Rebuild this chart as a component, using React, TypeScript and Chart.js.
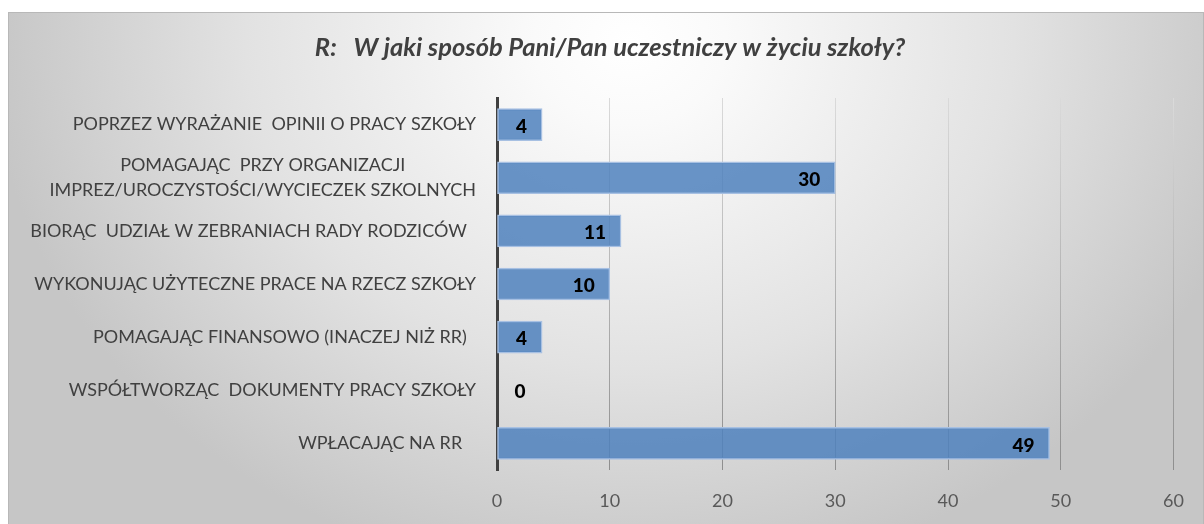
import React, { useEffect, useRef } from "react";
import { Chart, registerables } from "chart.js";

Chart.register(...registerables);

const titleText = "R:   W jaki sposób Pani/Pan uczestniczy w życiu szkoły?";

const categories: string[][] = [
  ["POPRZEZ WYRAŻANIE  OPINII O PRACY SZKOŁY"],
  ["POMAGAJĄC  PRZY ORGANIZACJI", "IMPREZ/UROCZYSTOŚCI/WYCIECZEK SZKOLNYCH"],
  ["BIORĄC  UDZIAŁ W ZEBRANIACH RADY RODZICÓW  "],
  ["WYKONUJĄC UŻYTECZNE PRACE NA RZECZ SZKOŁY"],
  ["POMAGAJĄC FINANSOWO (INACZEJ NIŻ RR)  "],
  ["WSPÓŁTWORZĄC  DOKUMENTY PRACY SZKOŁY"],
  ["WPŁACAJĄC NA RR   "],
];

const values: number[] = [4, 30, 11, 10, 4, 0, 49];

const xMin = 0;
const xMax = 60;
const xStep = 10;

const FONT = "Lato, 'Open Sans', sans-serif";

const bgPlugin = {
  id: "bgPlugin",
  beforeDraw(chart: any) {
    const { ctx, width, height } = chart;
    ctx.save();
    ctx.translate(width * 0.52, 30);
    ctx.scale(1, 0.85);
    const g = ctx.createRadialGradient(0, 0, 0, 0, 0, 640);
    g.addColorStop(0, "#FFFFFF");
    g.addColorStop(0.15, "#FAFAFA");
    g.addColorStop(0.6, "#E2E2E2");
    g.addColorStop(1, "#C6C6C6");
    ctx.fillStyle = g;
    ctx.fillRect(-width, -height * 2, width * 3, height * 4);
    ctx.restore();
    ctx.save();
    ctx.strokeStyle = "#B8B8B8";
    ctx.lineWidth = 1;
    ctx.strokeRect(0.5, 0.5, width - 1, height + 5);
    ctx.restore();
  },
};

const textPlugin = {
  id: "textPlugin",
  afterDraw(chart: any) {
    const { ctx } = chart;
    const yScale = chart.scales.y;
    ctx.save();
    // title
    ctx.fillStyle = "#404040";
    ctx.font = `italic bold 25.5px ${FONT}`;
    ctx.textAlign = "center";
    ctx.textBaseline = "middle";
    ctx.fillText(titleText, 602, 36);
    // category labels
    ctx.font = `18px ${FONT}`;
    ctx.fillStyle = "#404040";
    const rightX = 468;
    const lineH = 25;
    categories.forEach((lines, i) => {
      const cy = yScale.getPixelForValue(i);
      const widest = Math.max(...lines.map((l) => ctx.measureText(l).width));
      const cx = rightX - widest / 2;
      ctx.textAlign = "center";
      lines.forEach((l, j) => {
        const y = cy + (j - (lines.length - 1) / 2) * lineH;
        ctx.fillText(l, cx, y);
      });
    });
    ctx.restore();
  },
  afterDatasetsDraw(chart: any) {
    const { ctx } = chart;
    const meta = chart.getDatasetMeta(0);
    ctx.save();
    ctx.font = `900 19px ${FONT}`;
    ctx.fillStyle = "#000000";
    ctx.textBaseline = "middle";
    meta.data.forEach((bar: any, i: number) => {
      const v = values[i];
      if (v === 0) {
        ctx.textAlign = "center";
        ctx.fillText(String(v), bar.base + 23, bar.y + 2);
      } else {
        ctx.textAlign = "right";
        ctx.fillText(String(v), bar.x - 15, bar.y + 2);
      }
    });
    ctx.restore();
  },
};

export default function App() {
  const ref = useRef<HTMLCanvasElement | null>(null);
  useEffect(() => {
    if (!ref.current) return;
    const chart = new Chart(ref.current, {
      type: "bar",
      data: {
        labels: categories.map((c) => c.join(" ")),
        datasets: [
          {
            data: values,
            backgroundColor: "rgba(79,129,189,0.85)",
            borderColor: "#A7C0E2",
            borderWidth: 1.5,
            borderSkipped: false,
            barThickness: 32,
          },
        ],
      },
      options: {
        indexAxis: "y",
        animation: false,
        responsive: true,
        maintainAspectRatio: false,
        layout: { padding: { top: 86, right: 28, left: 0, bottom: 0 } },
        plugins: {
          legend: { display: false },
          title: { display: false },
          tooltip: { enabled: false },
        },
        scales: {
          x: {
            min: xMin,
            max: xMax,
            ticks: {
              stepSize: xStep,
              color: "#595959",
              font: { family: FONT, size: 18 },
              padding: 20,
            },
            grid: {
              drawTicks: false,
              lineWidth: 1,
              color: (c: any) => {
                const ch = c.chart;
                const area = ch.chartArea;
                if (!area) return "#A6A6A6";
                const g = ch.ctx.createLinearGradient(0, area.top, 0, area.bottom);
                g.addColorStop(0, "#DADADA");
                g.addColorStop(1, "#8E8E8E");
                return g;
              },
            },
            border: { display: false },
            afterFit: (s: any) => {
              s.height = 54;
            },
          },
          y: {
            ticks: { display: false },
            grid: { display: false, drawTicks: false },
            border: { display: true, color: "#404040", width: 3 },
            afterFit: (s: any) => {
              s.width = 489;
            },
          },
        },
      },
      plugins: [bgPlugin, textPlugin],
    });
    return () => chart.destroy();
  }, []);
  return (
    <div style={{ position: "absolute", left: 8, top: 12, width: 1196, height: 512 }}>
      <canvas ref={ref} />
    </div>
  );
}
